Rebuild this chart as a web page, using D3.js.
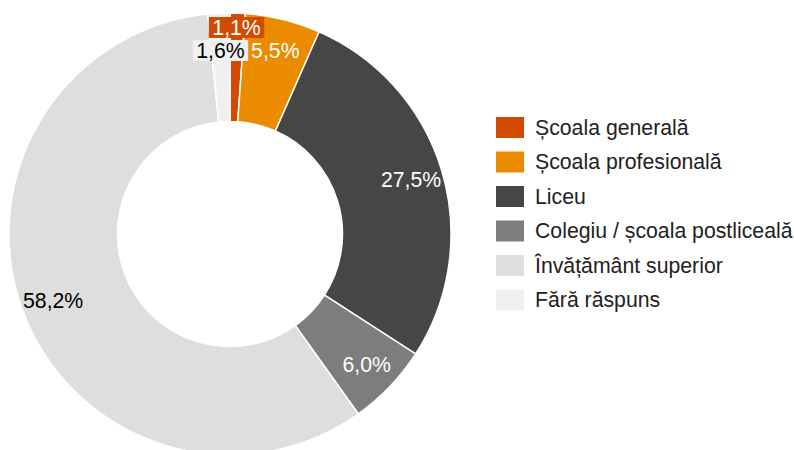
<!DOCTYPE html>
<html>
<head>
<meta charset="utf-8">
<script src="https://cdn.jsdelivr.net/npm/d3@7"></script>
<style>
  html, body { margin: 0; padding: 0; background: #fff; }
  svg { display: block; font-family: "Liberation Sans", Arial, sans-serif; }
</style>
</head>
<body>
<svg id="chart" width="794" height="450"></svg>
<script>
// Nivelul de educație – ponderi (%)
const categories = [
  "Școala generală",
  "Școala profesională",
  "Liceu",
  "Colegiu / școala postliceală",
  "Învățământ superior",
  "Fără răspuns"
];
const shares = [1.1, 5.5, 27.5, 6.0, 58.2, 1.6];
const palette = ["#d04a02", "#eb8c00", "#464646", "#7d7d7d", "#dedede", "#f0f0f0"];

const svg = d3.select("#chart");
const cx = 230, cy = 234;
const outerR = 221, innerR = 112.5, labelR = 189;
const fontSize = 21.25;
const smallShare = 2; // slices below this get a boxed label that may be moved

const color = d3.scaleOrdinal().domain(categories).range(palette);
const fmt = v => d3.format(".1f")(v).replace(".", ",") + "%";
const isDark = c => d3.hsl(c).l < 0.6;

const pie = d3.pie().sort(null).value(d => d.value);
const arcs = pie(categories.map((c, i) => ({ name: c, value: shares[i] })));

const arc = d3.arc().innerRadius(innerR).outerRadius(outerR);
const labelArc = d3.arc().innerRadius(labelR).outerRadius(labelR);

const g = svg.append("g").attr("transform", `translate(${cx},${cy})`);

g.selectAll("path.slice")
  .data(arcs)
  .join("path")
  .attr("class", "slice")
  .attr("d", arc)
  .attr("fill", d => color(d.data.name))
  .attr("stroke", "#fff")
  .attr("stroke-width", 1.5);

// Value labels
const labels = g.selectAll("g.lbl")
  .data(arcs)
  .join("g")
  .attr("class", "lbl");

labels.append("rect").attr("class", "bg");
labels.append("text")
  .attr("text-anchor", "middle")
  .attr("dy", "0.35em")
  .attr("font-size", fontSize)
  .attr("fill", d => isDark(color(d.data.name)) ? "#fff" : "#000")
  .text(d => fmt(d.data.value));

const boxH = 21, padX = 3.5, gap = 2;
labels.each(function(d) {
  const [x, y] = labelArc.centroid(d);
  d.tw = d3.select(this).select("text").node().getComputedTextLength();
  d.lx = x; d.ly = y; d.bw = d.tw + padX * 2;
});

// Labels of larger slices stay at their centroid; small-slice labels are
// placed afterwards in slice order and moved away from any text they hit.
const placed = arcs.filter(d => d.data.value >= smallShare);
arcs.filter(d => d.data.value < smallShare).forEach(d => {
  for (let iter = 0; iter < 10; iter++) {
    const hit = placed.find(p =>
      Math.abs(d.lx - p.lx) < (d.tw + p.tw) / 2 &&
      Math.abs(d.ly - p.ly) < boxH + gap - 0.5);
    if (!hit) break;
    d.ly = d.ly <= hit.ly ? hit.ly - (boxH + gap) : hit.ly + (boxH + gap);
  }
  placed.push(d);
});

labels.attr("transform", d => `translate(${d.lx},${d.ly})`);

labels.select("rect.bg")
  .filter(d => d.data.value < smallShare)
  .attr("x", d => -d.bw / 2)
  .attr("y", -boxH / 2)
  .attr("width", d => d.bw)
  .attr("height", boxH)
  .attr("fill", d => color(d.data.name));

// Legend
const legend = svg.append("g").attr("transform", "translate(496,127.5)");
const rowH = 34.5;
const items = legend.selectAll("g.item")
  .data(categories)
  .join("g")
  .attr("class", "item")
  .attr("transform", (d, i) => `translate(0,${i * rowH})`);

items.append("rect")
  .attr("x", 0)
  .attr("y", -10.5)
  .attr("width", 28)
  .attr("height", 21)
  .attr("fill", d => color(d));

items.append("text")
  .attr("x", 39)
  .attr("dy", "0.35em")
  .attr("font-size", fontSize)
  .attr("fill", "#222")
  .text(d => d);
</script>
</body>
</html>
